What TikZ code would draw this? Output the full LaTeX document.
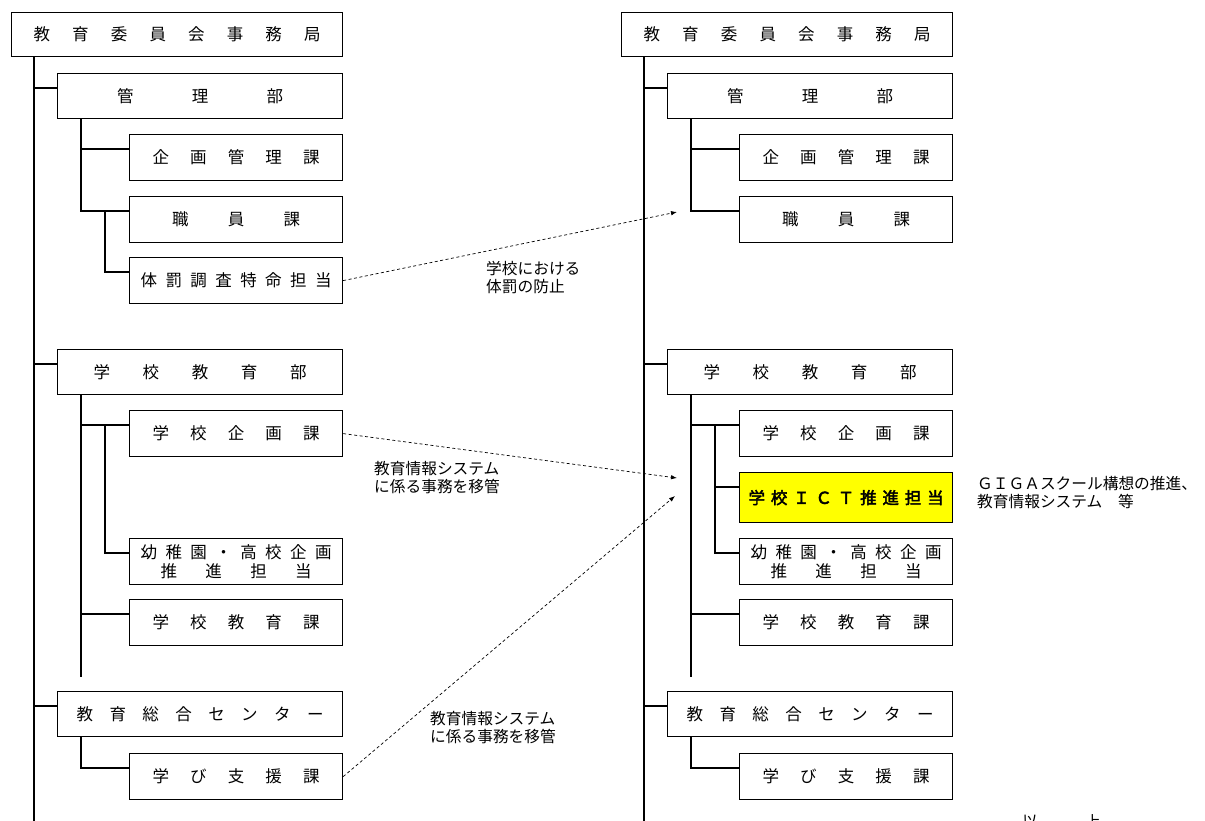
\documentclass[tikz,border=0pt]{standalone}
\usepackage{fontspec}
\setmainfont{Noto Sans CJK JP}[AutoFakeBold=2.5]
\usepackage{tikz}
\usetikzlibrary{positioning,calc,arrows.meta}
\definecolor{MarkYellow}{HTML}{FFFF00}

% spread the characters of #2 evenly over the width #1
\makeatletter
\newcommand{\spaced}[2]{\makebox[#1][s]{\spaced@first#2\relax}}
\def\spaced@first#1{#1\spaced@next}
\def\spaced@next#1{\ifx\relax#1\else\hfill#1\expandafter\spaced@next\fi}
\makeatother

\begin{document}
\begin{tikzpicture}[x=1pt, y=-1pt,
    box/.style = {rectangle, draw=black, line width=1.2pt, fill=white,
      anchor=north west, inner sep=0pt, align=center,
      font=\fontsize{16.5}{19}\selectfont},
    topbox/.style = {box, minimum width=331pt, minimum height=44pt},
    deptbox/.style = {box, minimum width=285pt, minimum height=45pt},
    secbox/.style = {box, minimum width=213pt, minimum height=46pt},
    link/.style = {line width=1.2pt},
    trunk/.style = {line width=1.6pt},
    move/.style = {dash pattern=on 3pt off 2.5pt, line width=0.7pt,
      -{Latex[length=6pt,width=4.5pt]}},
    note/.style = {anchor=west, inner sep=0pt, align=left,
      font=\fontsize{15.7}{18}\selectfont}
  ]
  \useasboundingbox (0,0) rectangle (1205,821);
  \clip (0,0) rectangle (1205,821);

  % before
  \node (A) [topbox] at (11,12) {\spaced{287pt}{教育委員会事務局}};
  \node (B) [deptbox] at (57,73) {\spaced{166pt}{管理部}};
  \node (C) [secbox] at (129,134) {\spaced{167pt}{企画管理課}};
  \node (D) [secbox] at (129,196) {\spaced{128pt}{職員課}};
  \node (E) [secbox] at (129,257) {\spaced{191pt}{体罰調査特命担当}};
  \node (F) [deptbox] at (57,349) {\spaced{213pt}{学校教育部}};
  \node (G) [secbox] at (129,410) {\spaced{167pt}{学校企画課}};
  \node (H) [secbox] at (129,538)
    {\spaced{191pt}{幼稚園・高校企画}\\\spaced{151pt}{推進担当}};
  \node (K) [secbox] at (129,599) {\spaced{167pt}{学校教育課}};
  \node (L) [deptbox] at (57,691) {\spaced{247pt}{教育総合センター}};
  \node (M) [secbox] at (129,753) {\spaced{167pt}{学び支援課}};

  % after
  \node (RA) [topbox] at (621,12) {\spaced{287pt}{教育委員会事務局}};
  \node (RB) [deptbox] at (667,73) {\spaced{166pt}{管理部}};
  \node (RC) [secbox] at (739,134) {\spaced{167pt}{企画管理課}};
  \node (RD) [secbox] at (739,196) {\spaced{128pt}{職員課}};
  \node (RF) [deptbox] at (667,349) {\spaced{213pt}{学校教育部}};
  \node (RG) [secbox] at (739,410) {\spaced{167pt}{学校企画課}};
  \node (RI) [secbox, fill=MarkYellow, minimum height=50pt] at (739,472)
    {\bfseries\spaced{195pt}{学校ＩＣＴ推進担当}};
  \node (RH) [secbox] at (739,538)
    {\spaced{191pt}{幼稚園・高校企画}\\\spaced{151pt}{推進担当}};
  \node (RK) [secbox] at (739,599) {\spaced{167pt}{学校教育課}};
  \node (RL) [deptbox] at (667,691) {\spaced{247pt}{教育総合センター}};
  \node (RM) [secbox] at (739,753) {\spaced{167pt}{学び支援課}};

  \foreach \n in {B,C,D,E,F,G,H,K,L,M,RB,RC,RD,RF,RG,RI,RH,RK,RL,RM}
    \coordinate (\n-in) at ($(\n.north west)+(0,15)$);

  \coordinate (Lend) at (34,821);
  \coordinate (Rend) at (644,821);
  \draw [trunk] (A.south -| Lend) -- (Lend);
  \draw [trunk] (RA.south -| Rend) -- (Rend);
  \draw [link] (Lend |- B-in) -- (B-in);
  \draw [link] (Lend |- F-in) -- (F-in);
  \draw [link] (Lend |- L-in) -- (L-in);
  \draw [link] (Rend |- RB-in) -- (RB-in);
  \draw [link] (Rend |- RF-in) -- (RF-in);
  \draw [link] (Rend |- RL-in) -- (RL-in);

  \draw [link] (B.south west) ++(24,0) |- (C-in);
  \draw [link] (B.south west) ++(24,0) |- (D-in);
  \draw [link] (D-in) ++(-24,0) |- (E-in);
  \draw [link] (F.south west) ++(24,0) |- (G-in);
  \draw [link] (F.south west) ++(24,0) |- (K-in);
  \draw [link] (F.south west) ++(24,0) -- ++(0,282);
  \draw [link] (G-in) ++(-24,0) |- (H-in);
  \draw [link] (L.south west) ++(24,0) |- (M-in);

  \draw [link] (RB.south west) ++(24,0) |- (RC-in);
  \draw [link] (RB.south west) ++(24,0) |- (RD-in);
  \draw [link] (RF.south west) ++(24,0) |- (RG-in);
  \draw [link] (RF.south west) ++(24,0) |- (RK-in);
  \draw [link] (RF.south west) ++(24,0) -- ++(0,282);
  \draw [link] (RG-in) ++(-24,0) |- (RI-in);
  \draw [link] (RG-in) ++(-24,0) |- (RH-in);
  \draw [link] (RL.south west) ++(24,0) |- (RM-in);

  % transfers
  \coordinate (T1) at (677,212);
  \coordinate (T2) at (677,478);
  \coordinate (T3) at (675,496);
  \draw [move] (E.east) -- (T1);
  \draw [move] (G.east) -- (T2);
  \draw [move] (M.east) -- (T3);

  \node (N1) [note] at (486,277.5) {学校における\\体罰の防止};
  \node (N2) [note] at (374,477.5) {教育情報システム\\に係る事務を移管};
  \node (N3) [note] at (430,728) {教育情報システム\\に係る事務を移管};
  \node (N4) [note] at (977,492.5)
    {ＧＩＧＡスクール構想の推進、\\教育情報システム　等};
  \node (N5) [note, anchor=north west] at (1022,814) {以　　　上};
\end{tikzpicture}
\end{document}
